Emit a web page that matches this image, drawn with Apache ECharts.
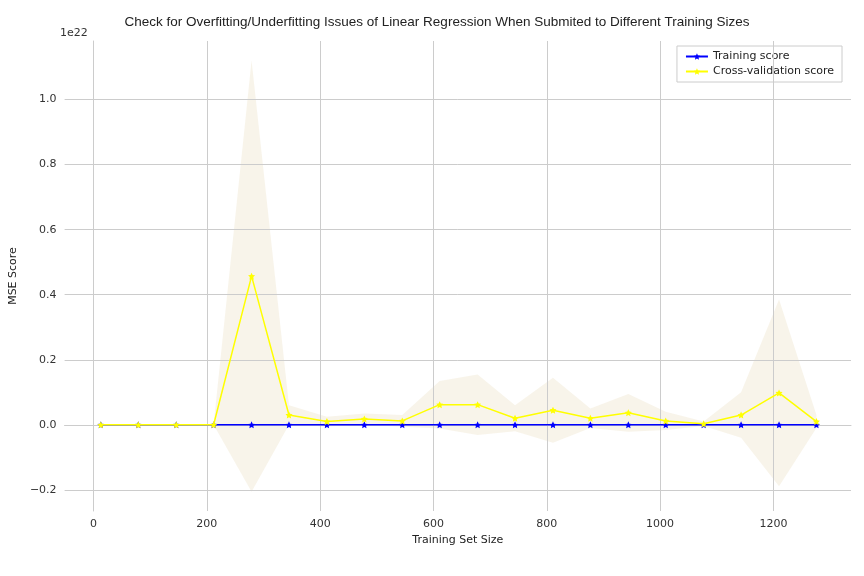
<!DOCTYPE html>
<html>
<head>
<meta charset="utf-8">
<script src="https://cdn.jsdelivr.net/npm/echarts@6/dist/echarts.min.js"></script>
<style>html,body{margin:0;padding:0;background:#fff}</style>
</head>
<body>
<div id="chart" style="width:864px;height:576px"></div>
<script>
// training sizes and scores (MSE in units of 1e22)
var sizes = [13, 79, 146, 212, 279, 345, 412, 478, 545, 611, 678, 744, 811, 877, 944, 1010, 1077, 1143, 1210, 1276];
var trainMean = [0, 0, 0, 0, 0, 0, 0, 0, 0, 0, 0, 0, 0, 0, 0, 0, 0, 0, 0, 0];
var cvMean = [0, 0, 0, 0, 0.457, 0.03, 0.01, 0.018, 0.012, 0.062, 0.062, 0.02, 0.045, 0.02, 0.037, 0.012, 0.003, 0.03, 0.098, 0.01];
var cvUpper = [0, 0, 0, 0, 1.12, 0.06, 0.025, 0.035, 0.03, 0.135, 0.155, 0.06, 0.145, 0.05, 0.095, 0.04, 0.01, 0.1, 0.385, 0.03];
var xTicks = [0, 200, 400, 600, 800, 1000, 1200];
var yTicks = [-0.2, 0, 0.2, 0.4, 0.6, 0.8, 1.0];

var cvLower = cvUpper.map(function (u, i) { return 2 * cvMean[i] - u; });
function pairs(ys) { return sizes.map(function (x, i) { return [x, ys[i]]; }); }

var font = 'DejaVu Sans';
var star = 'path://M0,-10L2.9,-4L9.5,-3.1L4.7,1.5L5.9,8.1L0,5L-5.9,8.1L-4.7,1.5L-9.5,-3.1L-2.9,-4Z';
var myChart = echarts.init(document.getElementById('chart'));
var gridStyle = { color: '#cccccc', width: 1, type: 'solid' };

option = {
  animation: false,
  textStyle: { fontFamily: font },
  title: {
    text: 'Check for Overfitting/Underfitting Issues of Linear Regression When Submited to Different Training Sizes',
    left: 432, top: 10, textAlign: 'center',
    textStyle: { fontSize: 13.5, fontWeight: 'normal', color: '#222', fontFamily: 'Liberation Sans' }
  },
  graphic: [{ type: 'text', left: 60, top: 28, style: { text: '1e22', fontSize: 11, fill: '#333', fontFamily: font } }],
  legend: {
    right: 22, top: 46, orient: 'vertical', itemGap: 4, itemWidth: 22, itemHeight: 8,
    backgroundColor: '#fff', borderColor: '#ccc', borderWidth: 1, padding: [5, 8],
    textStyle: { fontSize: 11, color: '#222' },
    data: ['Training score', 'Cross-validation score']
  },
  grid: { left: 60, right: 13, top: 41, bottom: 65 },
  xAxis: {
    type: 'value', min: -51, max: 1337,
    name: 'Training Set Size', nameLocation: 'middle', nameGap: 22,
    nameTextStyle: { fontSize: 11, color: '#222' },
    axisLine: { show: true, lineStyle: { color: '#ccc' } },
    axisTick: { show: false },
    splitLine: { show: false },
    axisLabel: { customValues: xTicks, color: '#333', fontSize: 11, formatter: function (v) { return String(v); } }
  },
  yAxis: {
    type: 'value', min: -0.265, max: 1.18,
    name: 'MSE Score', nameLocation: 'middle', nameGap: 40,
    nameTextStyle: { fontSize: 11, color: '#222' },
    axisLine: { show: true, lineStyle: { color: '#ccc' } },
    axisTick: { show: false },
    splitLine: { show: false },
    axisLabel: { customValues: yTicks, color: '#333', fontSize: 11,
      formatter: function (v) { return (v < 0 ? '\u2212' : '') + Math.abs(v).toFixed(1); } }
  },
  series: [
    {
      type: 'line', data: [], silent: true,
      markLine: {
        silent: true, symbol: 'none', label: { show: false }, lineStyle: gridStyle,
        data: xTicks.map(function (v) { return { xAxis: v }; }).concat(yTicks.map(function (v) { return { yAxis: v }; }))
      }
    },
    {
      type: 'custom', silent: true, clip: true, z: 1,
      data: sizes.map(function (x, i) { return [x, cvLower[i], cvUpper[i]]; }),
      renderItem: function (params, api) {
        if (params.dataIndex !== 0) return null;
        var top = [], bottom = [];
        for (var i = 0; i < sizes.length; i++) {
          top.push(api.coord([sizes[i], cvUpper[i]]));
          bottom.unshift(api.coord([sizes[i], cvLower[i]]));
        }
        return {
          type: 'polygon',
          shape: { points: top.concat(bottom) },
          style: { fill: 'rgba(225,205,160,0.22)' }
        };
      }
    },
    { name: 'Training score', type: 'line', data: pairs(trainMean), color: '#0000ff',
      symbol: star, symbolSize: 7, lineStyle: { width: 1.5 }, z: 5 },
    { name: 'Cross-validation score', type: 'line', data: pairs(cvMean), color: '#ffff00',
      symbol: star, symbolSize: 7, lineStyle: { width: 1.5 }, z: 6 }
  ]
};
myChart.setOption(option);
</script>
</body>
</html>
